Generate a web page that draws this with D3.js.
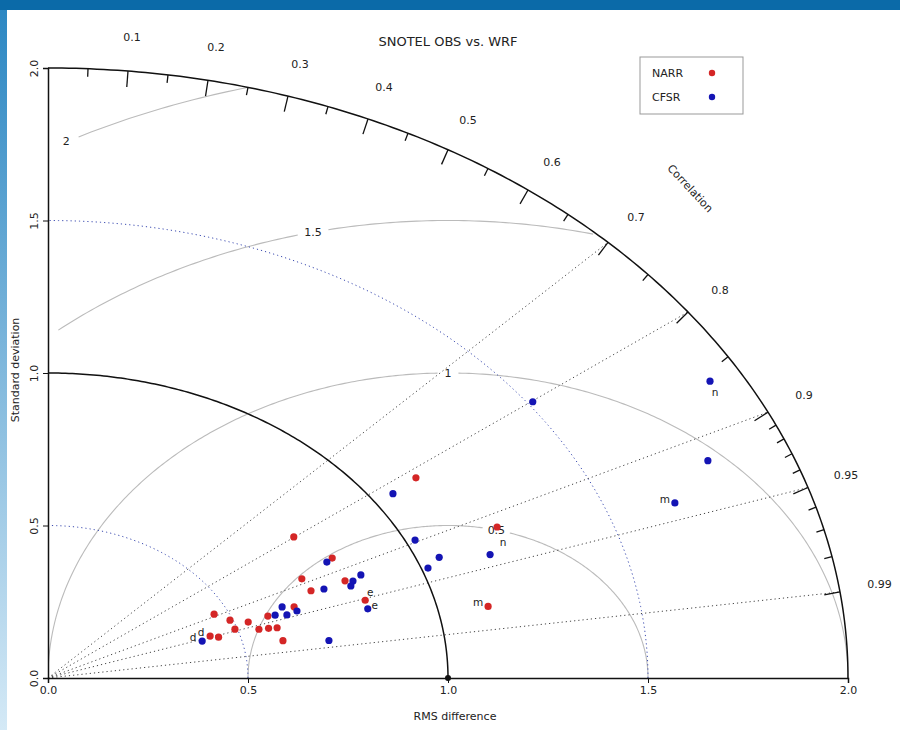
<!DOCTYPE html>
<html>
<head>
<meta charset="utf-8">
<script src="https://cdn.jsdelivr.net/npm/d3@7"></script>
<style>
body { margin: 0; background: #fff; }
text { font-family: "DejaVu Sans", sans-serif; fill: #222; }
</style>
</head>
<body>
<svg id="chart" width="900" height="730"></svg>
<script>
// Taylor diagram: std dev and correlation of each station
var narrStd  = [1.130, 0.769, 0.812, 0.713, 0.717, 0.808, 0.833, 0.658, 0.586, 0.465, 0.493,
                0.533, 0.494, 0.551, 0.575, 0.596, 0.600, 0.428, 0.447, 1.227, 1.125];
var narrCorr = [0.814, 0.799, 0.875, 0.890, 0.917, 0.919, 0.952, 0.935, 0.938, 0.893, 0.923,
                0.939, 0.946, 0.957, 0.959, 0.961, 0.979, 0.947, 0.954, 0.915, 0.978];
var narrTag  = ["", "", "", "", "", "", "e", "", "", "", "",
                "", "", "", "", "", "", "d", "", "n", "m"];

var cfsrStd  = [1.920, 1.797, 1.669, 1.513, 1.053, 1.023, 1.055, 1.016, 1.177, 0.794, 0.749,
                0.826, 0.852, 0.815, 0.831, 0.630, 0.604, 0.632, 0.660, 0.713, 0.404];
var cfsrCorr = [0.862, 0.918, 0.939, 0.801, 0.819, 0.897, 0.927, 0.935, 0.939, 0.878, 0.921,
                0.923, 0.918, 0.929, 0.962, 0.929, 0.940, 0.945, 0.943, 0.985, 0.954];
var cfsrTag  = ["n", "", "m", "", "", "", "", "", "", "", "",
                "", "", "", "e", "", "", "", "", "", "d"];

var seriesNames = ["NARR", "CFSR"];
var seriesColors = ["#d42626", "#1414b4"];

var corrMajor = [0.1, 0.2, 0.3, 0.4, 0.5, 0.6, 0.7, 0.8, 0.9, 0.95, 0.99];
var corrMinor = [0.05, 0.15, 0.25, 0.35, 0.45, 0.55, 0.65, 0.75, 0.85,
                 0.91, 0.92, 0.93, 0.94, 0.96, 0.97, 0.98];
var corrLines = [0.7, 0.8, 0.9, 0.95, 0.99];
var stdTicks = [0, 0.5, 1.0, 1.5, 2.0];
var stdDotted = [0.5, 1.5];
var refStd = 1.0;
var rmsLevels = [0.5, 1, 1.5, 2];
var rmsLabels = ["0.5", "1", "1.5", "2"];

var svg = d3.select("#chart");

// blue frame of the screenshot
var defs = svg.append("defs");
var grad = defs.append("linearGradient").attr("id", "edge")
    .attr("x1", 0).attr("y1", 0).attr("x2", 0).attr("y2", 1);
grad.append("stop").attr("offset", "0%").attr("stop-color", "#2a86c2");
grad.append("stop").attr("offset", "100%").attr("stop-color", "#d4e9f6");
svg.append("rect").attr("x", 0).attr("y", 0).attr("width", 7).attr("height", 730).attr("fill", "url(#edge)");
svg.append("rect").attr("x", 0).attr("y", 0).attr("width", 900).attr("height", 10).attr("fill", "#0b6aa8");

var maxStd = 2;
var x = d3.scaleLinear().domain([0, maxStd]).range([48, 848]);
var y = d3.scaleLinear().domain([0, maxStd]).range([678, 68]);

function polar(s, c) {
  var a = Math.acos(c);
  return [x(s * Math.cos(a)), y(s * Math.sin(a))];
}
function arcPts(s) {
  return d3.range(0, 90.25, 0.5).map(function(d) {
    var a = d * Math.PI / 180;
    return [x(s * Math.cos(a)), y(s * Math.sin(a))];
  });
}
var line = d3.line();

// clip to the quarter ellipse
var clipPts = [[x(0), y(0)]].concat(arcPts(maxStd));
defs.append("clipPath").attr("id", "quad").append("path").attr("d", line(clipPts) + "Z");
var inner = svg.append("g").attr("clip-path", "url(#quad)");

// RMS contours around the reference point, broken at their labels
var labelAngle = [76, 90, 103, 118.5];
rmsLevels.forEach(function(r, i) {
  var la = labelAngle[i] * Math.PI / 180;
  var lp = [x(refStd + r * Math.cos(la)), y(r * Math.sin(la))];
  var xmin = r > refStd ? 0.022 : -0.001;
  var pts = d3.range(0, 180.25, 0.5).map(function(d) {
    var a = d * Math.PI / 180;
    var dx = refStd + r * Math.cos(a), dy = r * Math.sin(a);
    var p = [x(dx), y(dy)];
    p.ok = dx >= xmin && dx * dx + dy * dy <= maxStd * maxStd + 0.001 &&
           Math.hypot(p[0] - lp[0], p[1] - lp[1]) > (rmsLabels[i].length > 1 ? 13 : 8);
    return p;
  });
  inner.append("path").attr("d", d3.line().defined(function(p) { return p.ok; })(pts))
    .attr("fill", "none").attr("stroke", "#bbbbbb").attr("stroke-width", 1.1);
  svg.append("text").attr("x", lp[0]).attr("y", lp[1])
    .attr("text-anchor", "middle").attr("dominant-baseline", "central")
    .attr("font-size", 11).text(rmsLabels[i]);
});

// dotted std dev arcs
stdDotted.forEach(function(s) {
  inner.append("path").attr("d", line(arcPts(s))).attr("fill", "none")
    .attr("stroke", "#3b4bb0").attr("stroke-width", 1).attr("stroke-dasharray", "1.2,3");
});

// dotted correlation lines
corrLines.forEach(function(c) {
  var p = polar(maxStd, c);
  inner.append("line").attr("x1", x(0)).attr("y1", y(0)).attr("x2", p[0]).attr("y2", p[1])
    .attr("stroke", "#444").attr("stroke-width", 1).attr("stroke-dasharray", "1.2,3");
});

// reference arc and outer arc
svg.append("path").attr("d", line(arcPts(refStd))).attr("fill", "none")
  .attr("stroke", "#111").attr("stroke-width", 1.5);
svg.append("path").attr("d", line(arcPts(maxStd))).attr("fill", "none")
  .attr("stroke", "#111").attr("stroke-width", 1.5);

// correlation ticks, along the normal of the ellipse
function corrTick(c, len) {
  var a = Math.acos(c);
  var p = polar(maxStd, c);
  var a0 = x(maxStd) - x(0), b0 = y(0) - y(maxStd);
  var nx = b0 * Math.cos(a), ny = a0 * Math.sin(a);
  var n = Math.hypot(nx, ny);
  svg.append("line").attr("x1", p[0]).attr("y1", p[1])
    .attr("x2", p[0] - len * nx / n).attr("y2", p[1] + len * ny / n)
    .attr("stroke", "#111").attr("stroke-width", 1.3);
}
corrMajor.forEach(function(c) { corrTick(c, 16); });
corrMinor.forEach(function(c) { corrTick(c, 8); });
corrMajor.forEach(function(c) {
  var p = polar(maxStd * 1.05, c);
  svg.append("text").attr("x", p[0]).attr("y", p[1] - 3)
    .attr("text-anchor", "middle").attr("dominant-baseline", "central")
    .attr("font-size", 11).text(c);
});
var cl = polar(maxStd * 1.135, Math.cos(Math.PI / 4));
svg.append("text").attr("transform", "translate(" + cl[0] + "," + cl[1] + ") rotate(47)")
  .attr("text-anchor", "middle").attr("dominant-baseline", "central")
  .attr("font-size", 11).text("Correlation");

// straight axes
var fmt = d3.format(".1f");
var yAxis = svg.append("g").attr("transform", "translate(" + x(0) + ",0)")
  .call(d3.axisLeft(y).tickValues(stdTicks).tickFormat(fmt).tickSizeOuter(0).tickSize(5));
yAxis.selectAll(".tick text").attr("transform", "rotate(-90)")
  .attr("x", 0).attr("y", -14).attr("dy", "0.32em").attr("text-anchor", "middle");
var xAxis = svg.append("g").attr("transform", "translate(0," + y(0) + ")")
  .call(d3.axisBottom(x).tickValues(stdTicks).tickFormat(fmt).tickSizeOuter(0).tickSize(5));
[xAxis, yAxis].forEach(function(g) {
  g.select(".domain").attr("stroke", "#111").attr("stroke-width", 1.5);
  g.selectAll(".tick line").attr("stroke", "#111");
  g.selectAll(".tick text").attr("font-size", 11).attr("font-family", "DejaVu Sans").attr("fill", "#222");
});
svg.append("text").attr("transform", "translate(15,370) rotate(-90)")
  .attr("text-anchor", "middle").attr("dominant-baseline", "central")
  .attr("font-size", 11).text("Standard deviation");
svg.append("text").attr("x", 455).attr("y", 716)
  .attr("text-anchor", "middle").attr("dominant-baseline", "central")
  .attr("font-size", 11).text("RMS difference");

// reference point
svg.append("circle").attr("cx", x(refStd)).attr("cy", y(0)).attr("r", 3).attr("fill", "#111");

// stations
var tagOffset = [
  { d: [-9, -4], e: [5, -8], m: [-10, -4], n: [6, 15] },
  { d: [-9, -4], e: [7, -4], m: [-10, -4], n: [5, 11] }
];
[[narrStd, narrCorr, narrTag], [cfsrStd, cfsrCorr, cfsrTag]].forEach(function(s, k) {
  var pts = s[0].map(function(v, i) { return { p: polar(v, s[1][i]), tag: s[2][i] }; });
  svg.append("g").selectAll("circle").data(pts).enter().append("circle")
    .attr("cx", function(d) { return d.p[0]; }).attr("cy", function(d) { return d.p[1]; })
    .attr("r", 3.6).attr("fill", seriesColors[k]);
  svg.append("g").selectAll("text").data(pts.filter(function(d) { return d.tag; })).enter().append("text")
    .attr("x", function(d) { return d.p[0] + tagOffset[k][d.tag][0]; })
    .attr("y", function(d) { return d.p[1] + tagOffset[k][d.tag][1]; })
    .attr("text-anchor", "middle").attr("dominant-baseline", "central")
    .attr("font-size", 10.5).text(function(d) { return d.tag; });
});

// title
svg.append("text").attr("x", 448).attr("y", 41)
  .attr("text-anchor", "middle").attr("dominant-baseline", "central")
  .attr("font-size", 13).text("SNOTEL OBS vs. WRF");

// legend
var lg = svg.append("g").attr("transform", "translate(640,57)");
lg.append("rect").attr("width", 103).attr("height", 57).attr("fill", "#fff")
  .attr("stroke", "#999").attr("stroke-width", 1);
seriesNames.forEach(function(n, i) {
  lg.append("text").attr("x", 12).attr("y", 16 + i * 24).attr("dominant-baseline", "central")
    .attr("font-size", 11).text(n);
  lg.append("circle").attr("cx", 72).attr("cy", 16 + i * 24).attr("r", 3.2).attr("fill", seriesColors[i]);
});
</script>
</body>
</html>
